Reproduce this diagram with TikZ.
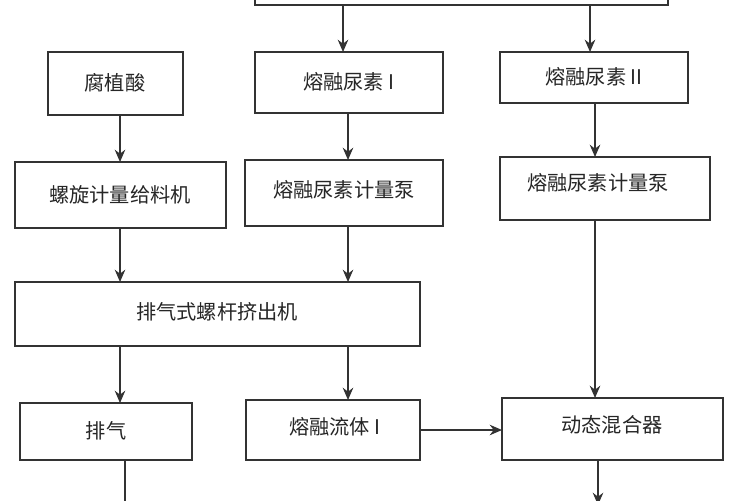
\documentclass[tikz,border=0pt]{standalone}
\usepackage{fontspec}
\newfontfamily\cjk{Noto Sans CJK SC}
\usetikzlibrary{arrows.meta}
\begin{document}
\begin{tikzpicture}[x=0.02cm,y=-0.02cm,
  bx/.style={draw=black!80,line width=0.9pt,fill=white},
  lb/.style={font=\cjk\fontsize{11.5}{13}\selectfont,text=black!85},
  ar/.style={draw=black!80,line width=0.9pt,-{Stealth[length=7pt,width=6pt]}},
  ln/.style={draw=black!80,line width=0.9pt}]
\useasboundingbox (0,0) rectangle (750,500);
\clip (0,0) rectangle (750,500);
\fill[white] (0,0) rectangle (750,500);
\draw[bx] (255,-30) rectangle (668,5);
\coordinate (top) at (450,5);
\draw[bx] (48,52) rectangle (183,115); \node[lb] (a) at (115,83) {腐植酸};
\draw[bx] (255,52) rectangle (443,113); \node[lb] (b) at (349,82) {熔融尿素 I};
\draw[bx] (500,52) rectangle (688,103); \node[lb] (c) at (594,77) {熔融尿素 II};
\draw[bx] (15,162) rectangle (226,228); \node[lb] (d) at (120,195) {螺旋计量给料机};
\draw[bx] (245,160) rectangle (443,226); \node[lb] (e) at (344,190) {熔融尿素计量泵};
\draw[bx] (500,157) rectangle (710,220); \node[lb] (f) at (598,183) {熔融尿素计量泵};
\draw[bx] (15,282) rectangle (420,346); \node[lb] (g) at (217,312) {排气式螺杆挤出机};
\draw[bx] (20,403) rectangle (192,460); \node[lb] (h) at (106,431) {排气};
\draw[bx] (246,400) rectangle (420,460); \node[lb] (i) at (335,427) {熔融流体 I};
\draw[bx] (502,398) rectangle (723,460); \node[lb] (j) at (612,425) {动态混合器};
\draw[ar] (343,5) -- (343,52);
\draw[ar] (590,5) -- (590,52);
\draw[ar] (120,115) -- (120,162);
\draw[ar] (120,228) -- (120,282);
\draw[ar] (348,113) -- (348,160);
\draw[ar] (348,226) -- (348,282);
\draw[ar] (595,103) -- (595,157);
\draw[ar] (595,220) -- (595,398);
\draw[ar] (120,346) -- (120,403);
\draw[ar] (348,346) -- (348,400);
\draw[ar] (420,430) -- (502,430);
\draw[ln] (125,460) -- (125,505);
\draw[ar] (598,460) -- (598,505);
\end{tikzpicture}
\end{document}
